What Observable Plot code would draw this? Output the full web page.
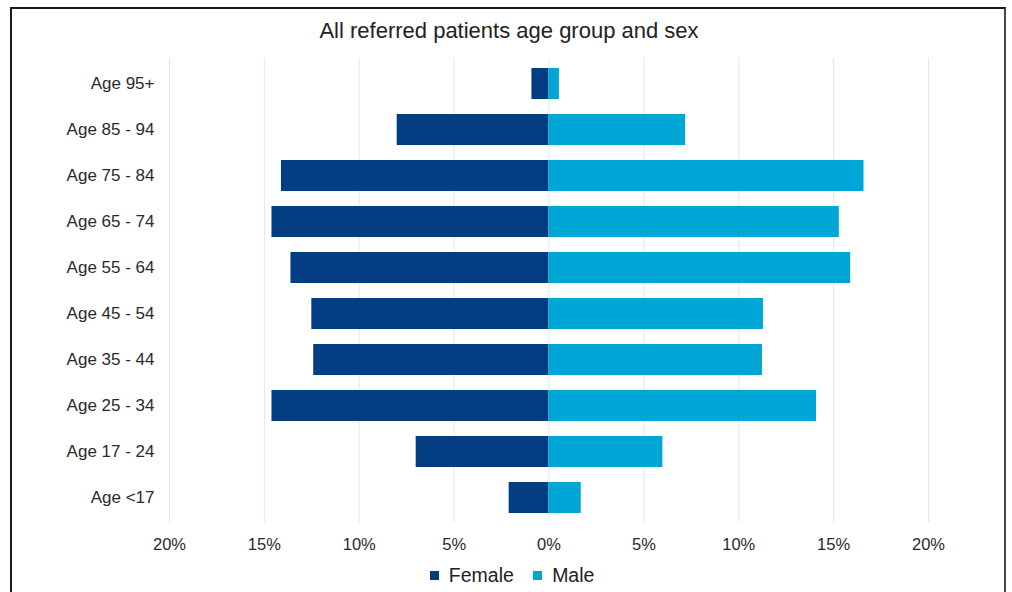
<!DOCTYPE html>
<html>
<head>
<meta charset="utf-8">
<script src="https://cdn.jsdelivr.net/npm/d3@7"></script>
<script src="https://cdn.jsdelivr.net/npm/@observablehq/plot@0.6"></script>
<style>
  html, body { margin: 0; padding: 0; background: #fff; width: 1012px; height: 592px; overflow: hidden; }
  body { position: relative; font-family: "Liberation Sans", Arial, sans-serif; color: #333; }
  #frame { position: absolute; left: 10px; top: 7px; width: 992px; height: 620px;
           border-top: 2px solid #1a1a1a; border-left: 2px solid #1a1a1a; border-right: 2px solid #444; }
  #title { position: absolute; left: 9px; top: 18px; width: 1000px; text-align: center;
           font-size: 22px; line-height: 26px; color: #222; }
  #chart { position: absolute; left: 0; top: 0; }
  #legend { position: absolute; left: 16px; top: 559px; width: 1012px; display: flex; justify-content: center; }
</style>
</head>
<body>
<div id="frame"></div>
<div id="chart"></div>
<div id="title">All referred patients age group and sex</div>
<div id="legend"></div>
<script>
const categories = ["Age <17", "Age 17 - 24", "Age 25 - 34", "Age 35 - 44", "Age 45 - 54",
                    "Age 55 - 64", "Age 65 - 74", "Age 75 - 84", "Age 85 - 94", "Age 95+"];
const female = [2.1, 7.0, 14.6, 12.4, 12.5, 13.6, 14.6, 14.1, 8.0, 0.9];
const male   = [1.7, 6.0, 14.1, 11.25, 11.3, 15.9, 15.3, 16.6, 7.2, 0.55];
const sexes = ["Female", "Male"];
const colors = ["#033e82", "#00a7d6"];
const xTicks = [-20, -15, -10, -5, 0, 5, 10, 15, 20];

const rows = [];
categories.forEach((c, i) => {
  rows.push({age: c, sex: "Female", value: -female[i]});
  rows.push({age: c, sex: "Male", value: male[i]});
});

const chart = Plot.plot({
  width: 1012,
  height: 560,
  marginTop: 58,
  marginBottom: 38,
  marginLeft: 169,
  marginRight: 84,
  style: {fontFamily: "'Liberation Sans', Arial, sans-serif", fontSize: "16.5px", color: "#2a2a2a", background: "transparent"},
  x: {domain: [-20, 20], ticks: xTicks, tickFormat: d => Math.abs(d) + "%", label: null, tickSize: 0, tickPadding: 16},
  y: {domain: categories.slice().reverse(), label: null, tickSize: 0, tickPadding: 15, paddingInner: 0.33, paddingOuter: 0.165},
  color: {domain: sexes, range: colors},
  marks: [
    Plot.gridX(xTicks, {stroke: "#e3e7ee", strokeOpacity: 1, strokeWidth: 1}),
    Plot.barX(rows, {y: "age", x1: 0, x2: "value", fill: "sex"}),
    Plot.axisY({tickSize: 0, tickPadding: 15, fontSize: 17})
  ]
});
document.getElementById("chart").appendChild(chart);

const legend = Plot.legend({
  color: {type: "ordinal", domain: sexes, range: colors},
  legend: "swatches",
  swatchSize: 9,
  style: {fontFamily: "'Liberation Sans', Arial, sans-serif", fontSize: "19.5px", color: "#222"}
});
document.getElementById("legend").appendChild(legend);
</script>
</body>
</html>
